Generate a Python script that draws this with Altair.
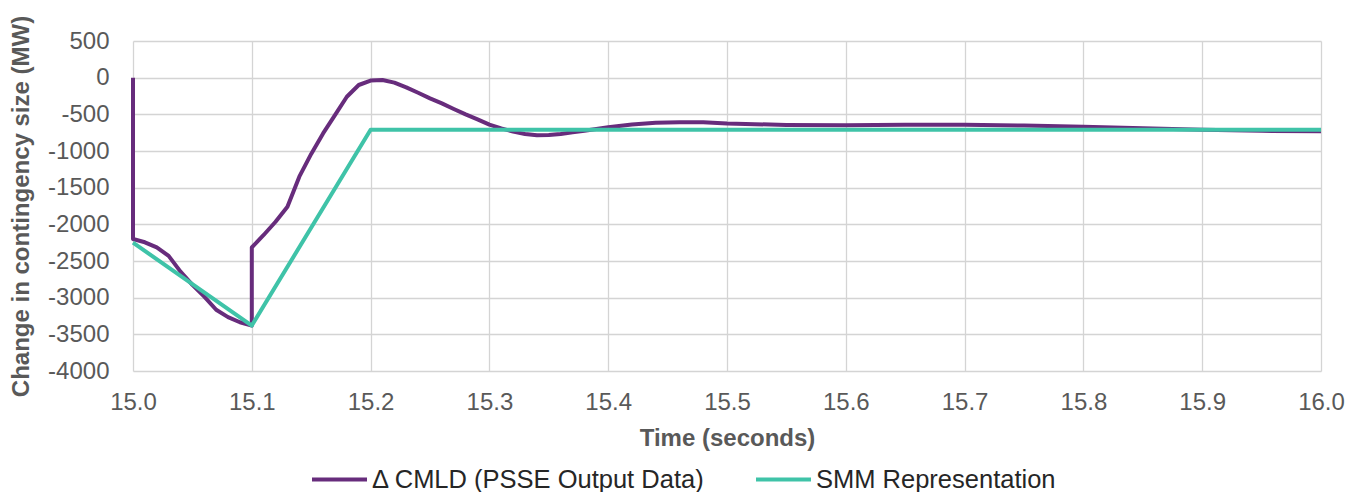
import altair as alt
import pandas as pd

# Δ CMLD (PSSE Output Data)
cmld_time = [15.00, 15.00, 15.01, 15.02, 15.03, 15.04, 15.05, 15.06, 15.07, 15.08, 15.09, 15.10,
             15.10, 15.11, 15.12, 15.13, 15.14, 15.15, 15.16, 15.17, 15.18, 15.19, 15.20,
             15.21, 15.22, 15.23, 15.24, 15.25, 15.26, 15.27, 15.28, 15.29, 15.30,
             15.31, 15.32, 15.33, 15.34, 15.35, 15.36, 15.37, 15.38, 15.39, 15.40,
             15.42, 15.44, 15.46, 15.48, 15.50, 15.55, 15.60, 15.65, 15.70, 15.75,
             15.80, 15.85, 15.90, 15.95, 16.00]
cmld_value = [0, -2200, -2245, -2315, -2430, -2645, -2825, -2985, -3165, -3265, -3335, -3380,
              -2315, -2145, -1965, -1760, -1350, -1040, -760, -510, -260, -100, -40,
              -32, -68, -132, -205, -282, -350, -427, -500, -568, -641,
              -691, -736, -768, -786, -782, -768, -745, -723, -700, -677,
              -640, -615, -607, -608, -625, -645, -648, -642, -642, -652,
              -668, -690, -710, -725, -730]

# SMM Representation
smm_time = [15.0, 15.1, 15.2, 16.0]
smm_value = [-2250, -3380, -710, -710]

series_names = ["Δ CMLD (PSSE Output Data)", "SMM Representation"]
series_colors = ["#672C7C", "#3FC3A8"]

x_ticks = [15.0, 15.1, 15.2, 15.3, 15.4, 15.5, 15.6, 15.7, 15.8, 15.9, 16.0]
y_ticks = [500, 0, -500, -1000, -1500, -2000, -2500, -3000, -3500, -4000]

rows = []
for i, (t, v) in enumerate(zip(cmld_time, cmld_value)):
    rows.append({"time": t, "value": v, "series": series_names[0], "idx": i})
for i, (t, v) in enumerate(zip(smm_time, smm_value)):
    rows.append({"time": t, "value": v, "series": series_names[1], "idx": i})
df = pd.DataFrame(rows)

FONT = "Liberation Sans"

chart = alt.Chart(df).mark_line(strokeWidth=4, strokeJoin="round").encode(
    x=alt.X("time:Q",
            scale=alt.Scale(domain=[15.0, 16.0], nice=False, zero=False),
            axis=alt.Axis(values=x_ticks, format=".1f", title="Time (seconds)",
                          labelPadding=19, titlePadding=12, labelFlush=False)),
    y=alt.Y("value:Q",
            scale=alt.Scale(domain=[-4000, 500], nice=False, zero=False),
            axis=alt.Axis(values=y_ticks, labelExpr="'' + datum.value",
                          title="Change in contingency size (MW)",
                          labelPadding=24, titlePadding=14, labelFlush=False)),
    color=alt.Color("series:N",
                    scale=alt.Scale(domain=series_names, range=series_colors),
                    legend=alt.Legend(title=None, orient="none", direction="horizontal",
                                      legendX=177, legendY=409,
                                      symbolType="stroke", symbolSize=3025,
                                      symbolStrokeWidth=4, labelOffset=3,
                                      columnPadding=42,
                                      labelFont=FONT, labelFontSize=25.5,
                                      labelColor="#262626", labelLimit=600)),
    order=alt.Order("idx:Q"),
    detail="series:N",
).properties(
    width=1188,
    height=330,
    autosize=alt.AutoSizeParams(type="none"),
    padding={"left": 133, "top": 41, "right": 38, "bottom": 121},
).configure_axis(
    labelFont=FONT, labelFontSize=24, labelColor="#595959",
    titleFont=FONT, titleFontSize=24, titleFontWeight="bold", titleColor="#595959",
    grid=True, gridColor="#d4d4d4", gridWidth=1.3,
    domain=False, ticks=False,
).configure_view(strokeWidth=0)

chart.save("out.html", embed_options={"renderer": "svg", "actions": False})
